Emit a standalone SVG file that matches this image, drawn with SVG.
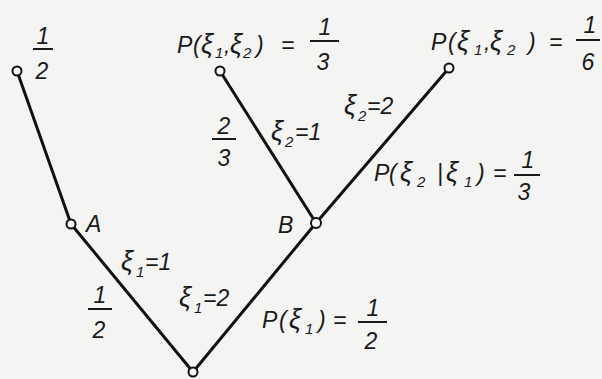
<svg xmlns="http://www.w3.org/2000/svg" width="602" height="379" viewBox="0 0 602 379">
<style>
.bg{fill:#f4f4f2}
.e{stroke:#111;stroke-width:3;stroke-linecap:round;fill:none}
.n{fill:#fafafa;stroke:#111;stroke-width:2}
.t{font-family:"Liberation Sans","DejaVu Sans",sans-serif;font-style:italic;font-size:23px;fill:#1a1a1a}
.s{font-size:15px}
.x{font-size:27px}
.bar{stroke:#1a1a1a;stroke-width:2}
</style>
<rect class="bg" x="0" y="0" width="602" height="379"/>
<g id="connectors">
<line class="e" x1="17" y1="71" x2="71" y2="224"/>
<line class="e" x1="71" y1="224" x2="193" y2="372"/>
<line class="e" x1="193" y1="372" x2="316" y2="223"/>
<line class="e" x1="316" y1="223" x2="220" y2="71"/>
<line class="e" x1="316" y1="223" x2="449" y2="68"/>
</g>
<g id="leaf-left">
<circle class="n" cx="17" cy="71" r="4.5"/>
<text class="t" x="43" y="44" text-anchor="middle">1</text>
<line class="bar" x1="33" y1="49" x2="53" y2="49"/>
<text class="t" x="42" y="79" text-anchor="middle">2</text>
</g>
<g id="node-A">
<circle class="n" cx="71" cy="224" r="4.5"/>
<text class="t" x="86" y="232">A</text>
</g>
<g id="root">
<circle class="n" cx="193" cy="372" r="4.5"/>
</g>
<g id="node-B">
<circle class="n" cx="316" cy="223" r="5"/>
<text class="t" x="278" y="233">B</text>
</g>
<g id="leaf-mid">
<circle class="n" cx="220" cy="71" r="4.5"/>
<text class="t" y="53"><tspan x="177">P</tspan><tspan x="193">(</tspan><tspan class="x" x="201">ξ</tspan><tspan class="s" x="215" y="58">1</tspan><tspan x="224" y="53">,</tspan><tspan class="x" x="230">ξ</tspan><tspan class="s" x="243" y="58">2</tspan><tspan x="256" y="53">)</tspan><tspan x="281">=</tspan></text>
<text class="t" x="325" y="35" text-anchor="middle">1</text>
<line class="bar" x1="310" y1="41" x2="339" y2="41"/>
<text class="t" x="323" y="70" text-anchor="middle">3</text>
</g>
<g id="leaf-right">
<circle class="n" cx="449" cy="68" r="4.5"/>
<text class="t" y="50"><tspan x="431">P</tspan><tspan x="448">(</tspan><tspan class="x" x="457">ξ</tspan><tspan class="s" x="474" y="55">1</tspan><tspan x="484" y="50">,</tspan><tspan class="x" x="490">ξ</tspan><tspan class="s" x="507" y="55">2</tspan><tspan x="528" y="50">)</tspan><tspan x="549">=</tspan></text>
<text class="t" x="590" y="33" text-anchor="middle">1</text>
<line class="bar" x1="576" y1="40" x2="600" y2="40"/>
<text class="t" x="588" y="70" text-anchor="middle">6</text>
</g>
<g id="edge-labels">
<text class="t" x="224" y="134" text-anchor="middle">2</text>
<line class="bar" x1="212" y1="139" x2="236" y2="139"/>
<text class="t" x="224" y="166" text-anchor="middle">3</text>
<text class="t" y="140"><tspan class="x" x="271">ξ</tspan><tspan class="s" x="285" y="147">2</tspan><tspan x="295" y="140">=1</tspan></text>
<text class="t" y="114"><tspan class="x" x="344">ξ</tspan><tspan class="s" x="358" y="121">2</tspan><tspan x="367" y="114">=2</tspan></text>
<text class="t" y="181"><tspan x="374">P</tspan><tspan x="389">(</tspan><tspan class="x" x="400">ξ</tspan><tspan class="s" x="417" y="187">2</tspan><tspan x="437" y="181">|</tspan><tspan class="x" x="446">ξ</tspan><tspan class="s" x="464" y="187">1</tspan><tspan x="477" y="181">)</tspan><tspan x="493">=</tspan></text>
<text class="t" x="528" y="168" text-anchor="middle">1</text>
<line class="bar" x1="514" y1="175" x2="540" y2="175"/>
<text class="t" x="524" y="200" text-anchor="middle">3</text>
<text class="t" y="270"><tspan class="x" x="121">ξ</tspan><tspan class="s" x="136" y="277">1</tspan><tspan x="145" y="270">=1</tspan></text>
<text class="t" y="306"><tspan class="x" x="179">ξ</tspan><tspan class="s" x="194" y="313">1</tspan><tspan x="203" y="306">=2</tspan></text>
<text class="t" x="100" y="303" text-anchor="middle">1</text>
<line class="bar" x1="88" y1="309" x2="112" y2="309"/>
<text class="t" x="99" y="338" text-anchor="middle">2</text>
<text class="t" y="328"><tspan x="262">P</tspan><tspan x="279">(</tspan><tspan class="x" x="289">ξ</tspan><tspan class="s" x="305" y="334">1</tspan><tspan x="318" y="328">)</tspan><tspan x="333">=</tspan></text>
<text class="t" x="373" y="316" text-anchor="middle">1</text>
<line class="bar" x1="358" y1="322" x2="387" y2="322"/>
<text class="t" x="371" y="349" text-anchor="middle">2</text>
</g>
</svg>
